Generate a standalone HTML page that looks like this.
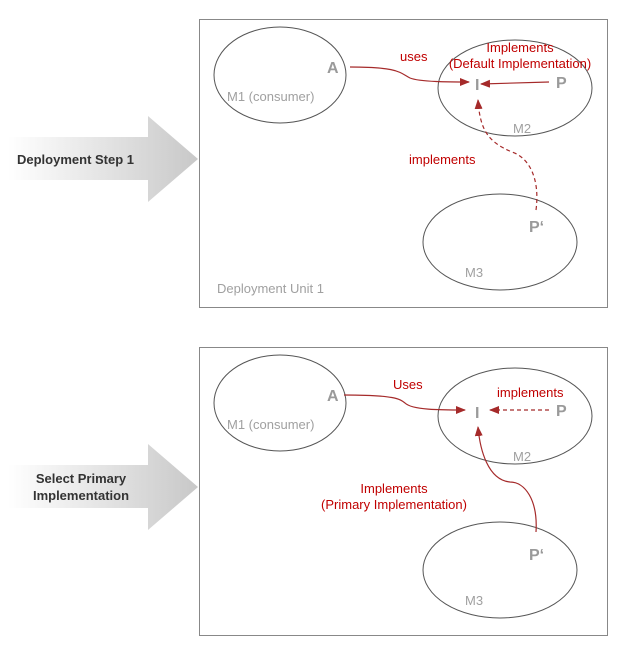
<!DOCTYPE html>
<html><head><meta charset="utf-8"><style>
html,body{margin:0;padding:0;background:#fff}
svg{display:block}
text{font-family:"Liberation Sans",Arial,sans-serif}
.g{fill:#9a9a9a;font-weight:bold;font-size:16px}
.m{fill:#a0a0a0;font-size:13px}
.r{fill:#c00000;font-size:13px}
.e{fill:none;stroke:#555;stroke-width:1}
.c{fill:none;stroke:#a52a2a;stroke-width:1.2}
.d{fill:none;stroke:#a52a2a;stroke-width:1.2;stroke-dasharray:4,3}
</style></head><body>
<svg width="620" height="651" viewBox="0 0 620 651">
<defs>
<linearGradient id="ag" x1="0" x2="1" y1="0" y2="0">
<stop offset="0" stop-color="#fff"/><stop offset="0.5" stop-color="#e4e4e4"/><stop offset="1" stop-color="#c8c8c8"/>
</linearGradient>
<marker id="ah" markerWidth="10" markerHeight="8" refX="9" refY="4" orient="auto" markerUnits="userSpaceOnUse">
<path d="M0,0 L10,4 L0,8 Z" fill="#a52a2a"/>
</marker>
</defs>
<polygon points="8,137 148,137 148,116 198,159 148,202 148,180 8,180" fill="url(#ag)"/>
<text x="17" y="164" style="font-size:13px;font-weight:bold;fill:#333">Deployment Step 1</text>
<polygon points="8,465 148,465 148,444 198,487 148,530 148,508 8,508" fill="url(#ag)"/>
<text x="81" y="483" text-anchor="middle" style="font-size:13px;font-weight:bold;fill:#333">Select Primary</text>
<text x="81" y="500" text-anchor="middle" style="font-size:13px;font-weight:bold;fill:#333">Implementation</text>

<rect x="199.5" y="19.5" width="408" height="288" fill="none" stroke="#888"/>
<ellipse class="e" cx="280" cy="75" rx="66" ry="48"/>
<ellipse class="e" cx="515" cy="88" rx="77" ry="48"/>
<ellipse class="e" cx="500" cy="242" rx="77" ry="48"/>
<text class="g" x="327" y="73">A</text>
<text class="g" x="475" y="90">I</text>
<text class="g" x="556" y="88">P</text>
<text class="g" x="529" y="232">P‘</text>
<text class="m" x="227" y="101">M1 (consumer)</text>
<text class="m" x="513" y="133">M2</text>
<text class="m" x="465" y="277">M3</text>
<text class="m" x="217" y="293">Deployment Unit 1</text>
<text class="r" x="400" y="61">uses</text>
<text class="r" x="520" y="52" text-anchor="middle">Implements</text>
<text class="r" x="520" y="68" text-anchor="middle">(Default Implementation)</text>
<text class="r" x="409" y="164">implements</text>
<path class="c" d="M350,67 C400,67 400,73 410,78 C420,82 450,82 469,82" marker-end="url(#ah)"/>
<path class="c" d="M549,82 L481,84" marker-end="url(#ah)"/>
<path class="d" d="M536,210 C540,180 530,158 512,152 C488,142 480,130 478,100" marker-end="url(#ah)"/>

<rect x="199.5" y="347.5" width="408" height="288" fill="none" stroke="#888"/>
<ellipse class="e" cx="280" cy="403" rx="66" ry="48"/>
<ellipse class="e" cx="515" cy="416" rx="77" ry="48"/>
<ellipse class="e" cx="500" cy="570" rx="77" ry="48"/>
<text class="g" x="327" y="401">A</text>
<text class="g" x="475" y="418">I</text>
<text class="g" x="556" y="416">P</text>
<text class="g" x="529" y="560">P‘</text>
<text class="m" x="227" y="429">M1 (consumer)</text>
<text class="m" x="513" y="461">M2</text>
<text class="m" x="465" y="605">M3</text>
<text class="r" x="393" y="389">Uses</text>
<text class="r" x="497" y="397">implements</text>
<text class="r" x="394" y="493" text-anchor="middle">Implements</text>
<text class="r" x="394" y="509" text-anchor="middle">(Primary Implementation)</text>
<path class="c" d="M344,395 C395,395 400,399 405,403 C412,410 440,410 465,410" marker-end="url(#ah)"/>
<path class="d" d="M549,410 L490,410" marker-end="url(#ah)"/>
<path class="c" d="M536,532 C538,500 525,482 510,482 C488,480 480,450 478,427" marker-end="url(#ah)"/>
</svg>
</body></html>
